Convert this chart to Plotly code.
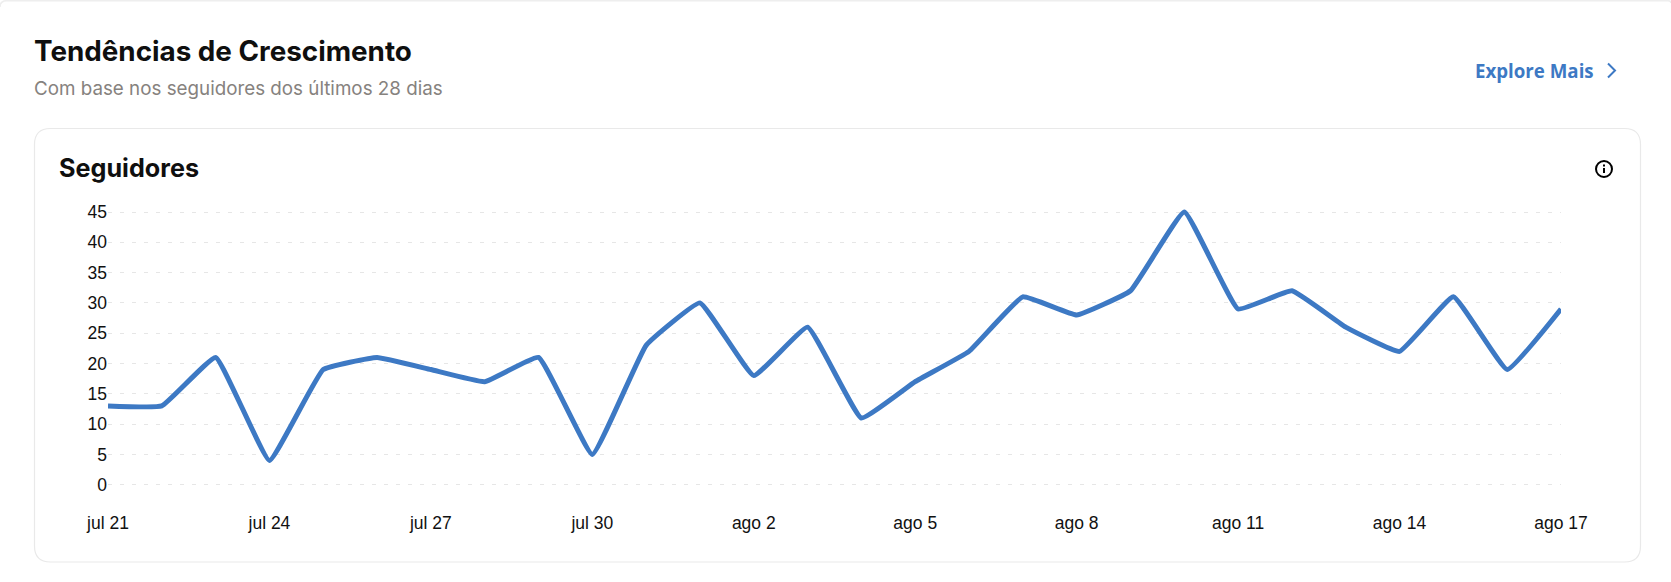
import plotly.graph_objects as go

dates = ["2025-07-21","2025-07-22","2025-07-23","2025-07-24","2025-07-25","2025-07-26","2025-07-27",
         "2025-07-28","2025-07-29","2025-07-30","2025-07-31","2025-08-01","2025-08-02","2025-08-03",
         "2025-08-04","2025-08-05","2025-08-06","2025-08-07","2025-08-08","2025-08-09","2025-08-10",
         "2025-08-11","2025-08-12","2025-08-13","2025-08-14","2025-08-15","2025-08-16","2025-08-17"]
followers = [13,13,21,4,19,21,19,17,21,5,23,30,18,26,11,17,22,31,28,32,45,29,32,26,22,31,19,29]
tick_dates = dates[::3]
tick_labels = ["jul 21","jul 24","jul 27","jul 30","ago 2","ago 5","ago 8","ago 11","ago 14","ago 17"]
y_ticks = [0,5,10,15,20,25,30,35,40,45]

W, H = 1671, 582
BLUE = "#3d79c4"
def X(p): return p / W
def Y(p): return 1 - p / H

def rr(x0, y0, x1, y1, r):
    return (f"M{X(x0+r)},{Y(y0)} L{X(x1-r)},{Y(y0)} Q{X(x1)},{Y(y0)} {X(x1)},{Y(y0+r)} "
            f"L{X(x1)},{Y(y1-r)} Q{X(x1)},{Y(y1)} {X(x1-r)},{Y(y1)} L{X(x0+r)},{Y(y1)} "
            f"Q{X(x0)},{Y(y1)} {X(x0)},{Y(y1-r)} L{X(x0)},{Y(y0+r)} Q{X(x0)},{Y(y0)} {X(x0+r)},{Y(y0)} Z")

fig = go.Figure(go.Scatter(x=dates, y=followers, mode="lines", cliponaxis=False,
    line=dict(color=BLUE, width=5, shape="spline", smoothing=0.3), hoverinfo="skip"))

shapes = [
    dict(type="path", xref="paper", yref="paper", layer="below",
         path=f"M{X(0)},{Y(7)} Q{X(0)},{Y(0.7)} {X(7)},{Y(0.7)} L{X(W-3)},{Y(0.7)} Q{X(W)},{Y(0.7)} {X(W)},{Y(3)}",
         line=dict(color="#eeeeee", width=1.5)),
    dict(type="path", xref="paper", yref="paper", layer="below", path=rr(34.5, 128.5, 1640.5, 562, 16),
         line=dict(color="#e9e9e9", width=1.2), fillcolor="#ffffff"),
    dict(type="path", xref="paper", yref="paper", path=f"M{X(1608)},{Y(63.5)} L{X(1615)},{Y(70.5)} L{X(1608)},{Y(77.5)}",
         line=dict(color=BLUE, width=2)),
    dict(type="circle", xref="paper", yref="paper", x0=X(1596), x1=X(1612), y0=Y(161), y1=Y(177),
         line=dict(color="#000000", width=2)),
    dict(type="line", xref="paper", yref="paper", x0=X(1604), x1=X(1604), y0=Y(168), y1=Y(173),
         line=dict(color="#000000", width=2)),
    dict(type="line", xref="paper", yref="paper", x0=X(1604), x1=X(1604), y0=Y(164.5), y1=Y(166.5),
         line=dict(color="#000000", width=2)),
]

def txt(s, x, y, size, color, family, weight=400, xanchor="left"):
    return dict(text=s, x=X(x), y=Y(y), xref="paper", yref="paper", showarrow=False, xanchor=xanchor,
                yanchor="middle", font=dict(size=size, color=color, family=family, weight=weight),
                xshift=0, borderpad=0)

annotations = [
    txt("Tendências de Crescimento", 33, 51, 27.8, "#0f0f0f", "Inter", 700),
    txt("Com base nos seguidores dos últimos 28 dias", 33, 88, 18.8, "#86827e", "Inter"),
    txt("Seguidores", 58, 168, 25.2, "#0f0f0f", "Inter", 700),
    txt("Explore Mais", 1474, 70, 18.7, BLUE, "Open Sans", 700),
]

fig.update_layout(
    width=W, height=H, margin=dict(l=0, r=0, t=0, b=0), autosize=False,
    paper_bgcolor="#ffffff", plot_bgcolor="rgba(0,0,0,0)", showlegend=False,
    shapes=shapes, annotations=annotations,
    font=dict(family="Liberation Sans", size=17.5, color="#111111"),
    xaxis=dict(domain=[X(108), X(1561)], type="date", range=[dates[0], dates[-1]], automargin=False,
               tickmode="array", tickvals=tick_dates, ticktext=tick_labels,
               showgrid=False, zeroline=False, showline=False, ticks="", ticklabelstandoff=20),
    yaxis=dict(domain=[Y(490.76), Y(205.94)], range=[-1, 46], tickmode="array", tickvals=y_ticks, automargin=False,
               showgrid=True, gridcolor="#e6e6e6", griddash="3.5px,8.5px", gridwidth=1.3,
               zeroline=False, showline=False, ticks="", ticklabelstandoff=0),
)
fig.write_html("out.html", config=dict(displayModeBar=False),
               post_script="document.body.style.margin='0';document.body.style.overflow='hidden';")
